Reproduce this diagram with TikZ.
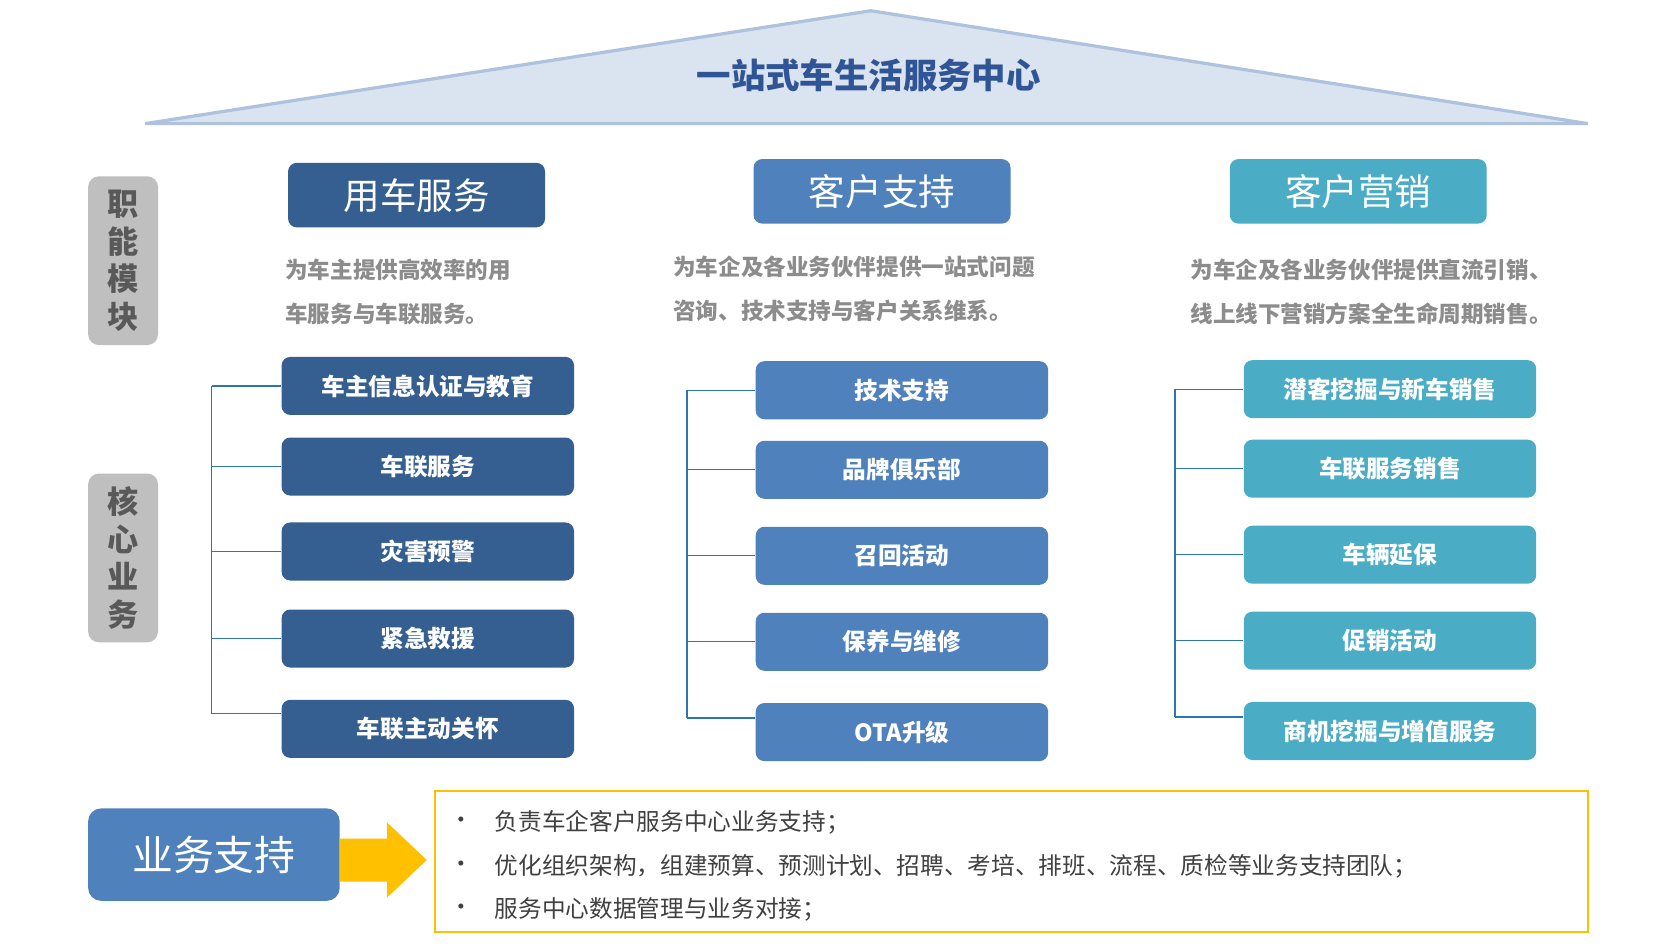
\documentclass[tikz,border=0pt]{standalone}
\usepackage{fontspec}
\setmainfont{Noto Sans CJK SC}
\begin{document}
\begin{tikzpicture}[x=0.5pt,y=-0.5pt,
  hdr/.style={rounded corners=4pt,minimum width=119.5pt,minimum height=30pt,text=white,font=\fontsize{17}{17}\selectfont,inner sep=0pt},
  item/.style={rounded corners=4pt,minimum width=136pt,minimum height=27pt,text=white,font=\bfseries\fontsize{11}{11}\selectfont,inner sep=0pt},
  side/.style={fill=sgrey,rounded corners=5pt,minimum width=32.5pt,minimum height=78.5pt,text=tgrey,font=\bfseries\fontsize{14.5}{17.5}\selectfont,align=center,inner sep=0pt},
  desc/.style={anchor=west,text=dgrey,font=\bfseries\fontsize{10.5}{10.5}\selectfont,inner sep=0pt},
  conn/.style={draw=lineblue,line width=0.6pt},
  bul/.style={anchor=west,text=btext,font=\fontsize{11}{11}\selectfont,inner sep=0pt}]
\definecolor{c1}{HTML}{355F91}\definecolor{c2}{HTML}{4F81BD}\definecolor{c3}{HTML}{4BACC6}
\definecolor{sgrey}{HTML}{BFBFBF}\definecolor{tgrey}{HTML}{595959}\definecolor{dgrey}{HTML}{8C8C8C}
\definecolor{lineblue}{HTML}{2E75B6}\definecolor{btext}{HTML}{404040}
\definecolor{roof}{HTML}{DAE3F0}\definecolor{roofl}{HTML}{AEC2DE}\definecolor{ttl}{HTML}{2F5597}
\definecolor{ylw}{HTML}{FFC000}
\useasboundingbox (0,0) rectangle (1560,883);
\fill[white] (0,0) rectangle (1560,883);
% roof
\draw[fill=roof,draw=roofl,line width=1.5pt] (135,115) -- (810,10) -- (1477,115) -- cycle;
\node[text=ttl,font=\bfseries\fontsize{16}{16}\selectfont] (title) at (808,70) {一站式车生活服务中心};
% side labels
\node[side] (s1) at (114.5,242.5) {职\\能\\模\\块};
\node[side] (s2) at (114.5,519) {核\\心\\业\\务};
% headers
\node[hdr,fill=c1] (h1) at (387.5,181.5) {用车服务};
\node[hdr,fill=c2] (h2) at (820.5,178) {客户支持};
\node[hdr,fill=c3] (h3) at (1263.5,178) {客户营销};
% descriptions
\node[desc] (d1a) at (265,251) {为车主提供高效率的用};
\node[desc] (d1b) at (265,292) {车服务与车联服务。};
\node[desc] (d2a) at (626,248) {为车企及各业务伙伴提供一站式问题};
\node[desc] (d2b) at (626,289) {咨询、技术支持与客户关系维系。};
\node[desc] (d3a) at (1107,251) {为车企及各业务伙伴提供直流引销、};
\node[desc] (d3b) at (1107,292) {线上线下营销方案全生命周期销售。};
% column 1
\foreach \n/\y/\t in {1/359/车主信息认证与教育,2/434/车联服务,3/513/灾害预警,4/594/紧急救援,5/678/车联主动关怀}{
  \node[item,fill=c1] (a\n) at (398,\y) {\t};}
\foreach \n/\y/\t in {1/363/技术支持,2/437/品牌俱乐部,3/517/召回活动,4/597/保养与维修,5/681/OTA升级}{
  \node[item,fill=c2] (b\n) at (839,\y) {\t};}
\foreach \n/\y/\t in {1/362/潜客挖掘与新车销售,2/436/车联服务销售,3/516/车辆延保,4/596/促销活动,5/680/商机挖掘与增值服务}{
  \node[item,fill=c3] (c\n) at (1293,\y) {\t};}
% brackets
\coordinate (ta) at (197,359); \coordinate (ba) at (197,664);
\coordinate (tb) at (639,363); \coordinate (bb) at (639,668);
\coordinate (tc) at (1093,362); \coordinate (bc) at (1093,667);
\draw[conn] (ta) -- (ba); \draw[conn] (tb) -- (bb); \draw[conn] (tc) -- (bc);
\foreach \n in {1,...,4}{
  \draw[conn] (ta |- a\n.west) -- (a\n.west);
  \draw[conn] (tb |- b\n.west) -- (b\n.west);
  \draw[conn] (tc |- c\n.west) -- (c\n.west);}
\draw[conn] (ba) -- (ba -| a5.west);
\draw[conn] (bb) -- (bb -| b5.west);
\draw[conn] (bc) -- (bc -| c5.west);
% bottom
\node[fill=c2,rounded corners=6pt,minimum width=117pt,minimum height=43pt,text=white,font=\fontsize{19}{19}\selectfont,inner sep=0pt] (sup) at (199,795) {业务支持};
\fill[ylw] (316,780) -- (360,780) -- (360,765) -- (397,800) -- (360,835) -- (360,820) -- (316,820) -- cycle;
\node[draw=ylw,line width=1pt,minimum width=536pt,minimum height=65.5pt,inner sep=0pt] (box) at (941,801.5) {};
\foreach \y/\t in {765/负责车企客户服务中心业务支持；,806/优化组织架构，组建预算、预测计划、招聘、考培、排班、流程、质检等业务支持团队；,846/服务中心数据管理与业务对接；}{
  \node[bul] at (418,\y) {•};
  \node[bul] at (460,\y) {\t};}
\end{tikzpicture}
\end{document}
